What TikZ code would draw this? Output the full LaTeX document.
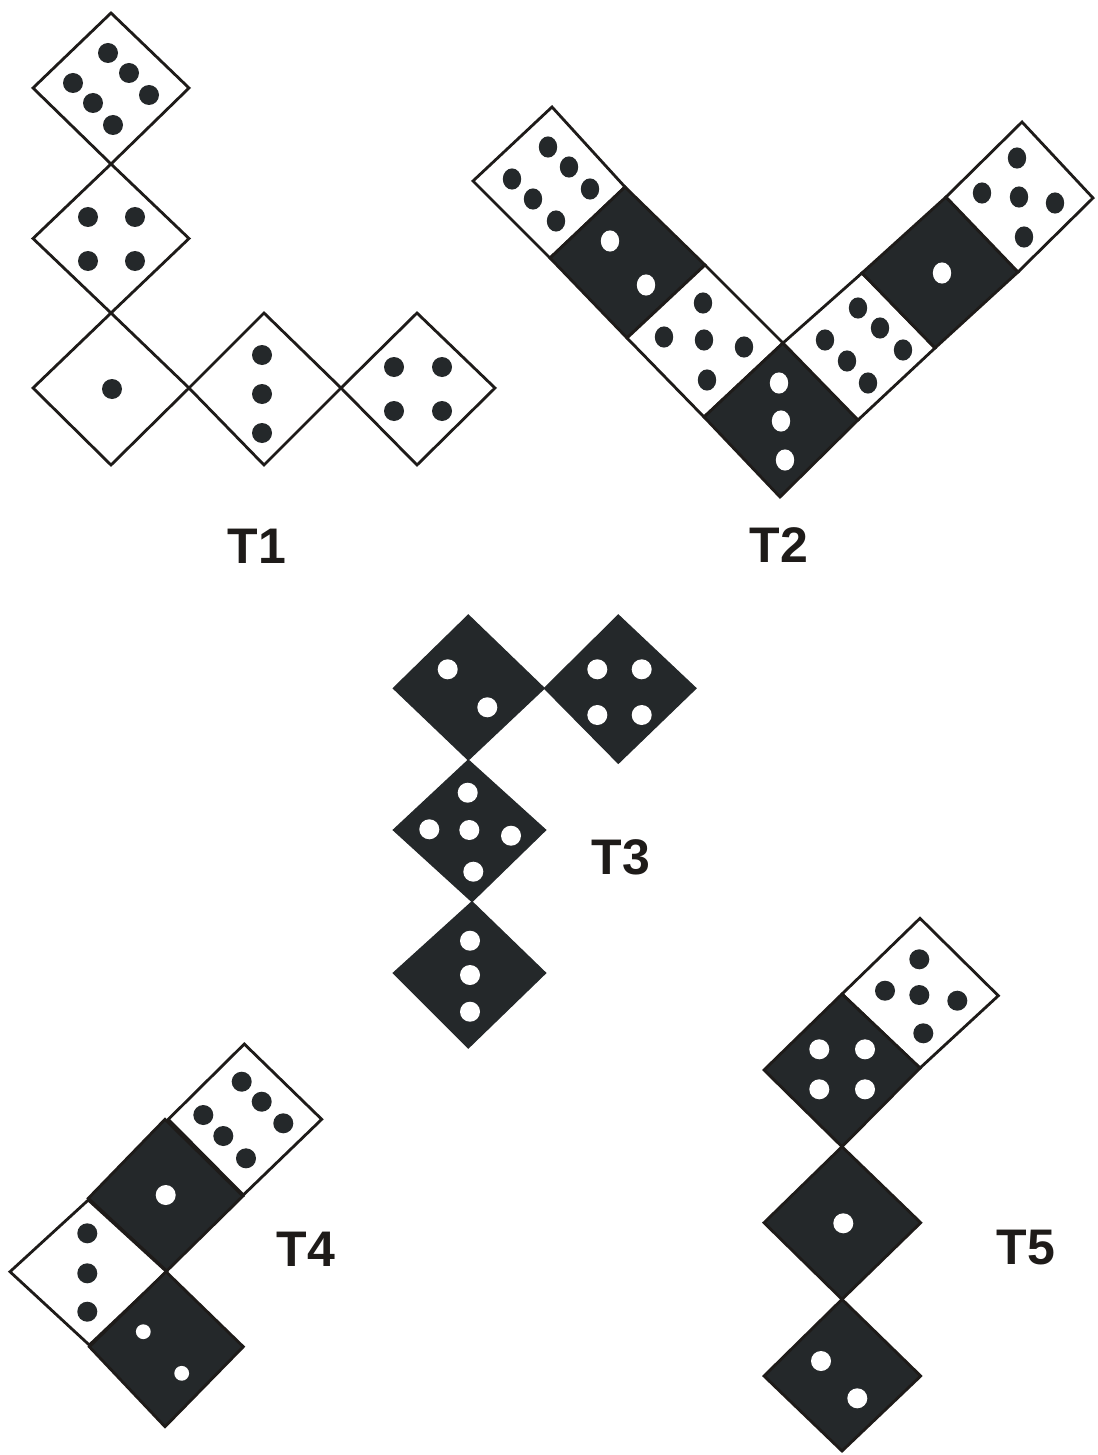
\documentclass[tikz,border=0pt]{standalone}
\usepackage{fontspec}
\setmainfont{Liberation Sans}
\definecolor{dk}{RGB}{36,40,42}
\definecolor{ln}{RGB}{30,27,25}
\newcommand\dpip[2][bp]{\fill[#1] #2 circle[radius=5pt];}
\newcommand\spip[2][wp]{\fill[#1] #2 circle[radius=3.7pt];}
\newcommand\epip[2][bp]{\fill[#1] #2 ellipse[x radius=4.6pt,y radius=5.3pt];}
\newcommand\quadd[5]{\filldraw[#1] #2 -- #3 -- #4 -- #5 -- cycle;}
\begin{document}
\begin{tikzpicture}[x=0.5pt,y=-0.5pt,
  wdie/.style={fill=white,draw=ln,line width=1.4pt,line join=miter},
  bdie/.style={fill=dk,draw=ln,line width=1.4pt,line join=miter},
  tdie/.style={fill=dk,draw=dk,line width=0.6pt},
  bp/.style={fill=dk},
  wp/.style={fill=white},
  lbl/.style={font=\fontsize{25}{30}\selectfont\bfseries,text=ln,inner sep=0pt}]
\useasboundingbox[fill=white] (0,0) rectangle (1097,1455);

% ---------------- T1 ----------------
\quadd{wdie}{(111,13)}{(189,88)}{(111,164)}{(33,88)}
\quadd{wdie}{(111,164)}{(189,238.5)}{(111,313)}{(33,238.5)}
\quadd{wdie}{(111,313)}{(189,388)}{(111,465)}{(33,388)}
\quadd{wdie}{(264,313)}{(341,388)}{(264,465)}{(189,388)}
\quadd{wdie}{(417,313)}{(495,388)}{(417,465)}{(341,388)}
\dpip{(108,53)}\dpip{(129,73)}\dpip{(149,95)}
\dpip{(73,83)}\dpip{(93,103)}\dpip{(113,125)}
\dpip{(88,217)}\dpip{(135,217)}\dpip{(88,261)}\dpip{(135,261)}
\dpip{(112,389)}
\dpip{(262,355)}\dpip{(262,394)}\dpip{(262,433)}
\dpip{(394,367)}\dpip{(442,367)}\dpip{(394,411)}\dpip{(442,411)}
\node[lbl] (t1) at (257,546) {T1};

% ---------------- T2 ----------------
\coordinate (P0) at (552,107);  \coordinate (P1) at (625,187);
\coordinate (P2) at (705,265);  \coordinate (P3) at (783,343);
\coordinate (Q0) at (473,181);  \coordinate (Q1) at (550,258);
\coordinate (Q2) at (627,338);  \coordinate (Q3) at (704,417);
\coordinate (Q4) at (780,497);
\coordinate (R0) at (1022,122); \coordinate (R1) at (946,197);
\coordinate (R2) at (862,273);
\coordinate (S0) at (1093,198); \coordinate (S1) at (1018,272);
\coordinate (S2) at (935,348);  \coordinate (S3) at (858,420);
\quadd{wdie}{(P0)}{(P1)}{(Q1)}{(Q0)}
\quadd{bdie}{(P1)}{(P2)}{(Q2)}{(Q1)}
\quadd{wdie}{(P2)}{(P3)}{(Q3)}{(Q2)}
\quadd{bdie}{(P3)}{(S3)}{(Q4)}{(Q3)}
\quadd{wdie}{(R2)}{(S2)}{(S3)}{(P3)}
\quadd{bdie}{(R1)}{(S1)}{(S2)}{(R2)}
\quadd{wdie}{(R0)}{(S0)}{(S1)}{(R1)}
\epip{(548,147)}\epip{(569,167)}\epip{(590,189)}
\epip{(512,179)}\epip{(533,199)}\epip{(556,221)}
\epip[wp]{(610,241)}\epip[wp]{(646,285)}
\epip{(703,303)}\epip{(664,337)}\epip{(704,340)}\epip{(744,347)}\epip{(707,380)}
\epip[wp]{(779,383)}\epip[wp]{(781,421)}\epip[wp]{(785,460)}
\epip{(858,308)}\epip{(880,328)}\epip{(903,350)}
\epip{(825,340)}\epip{(847,361)}\epip{(868,383)}
\epip[wp]{(942,273)}
\epip{(1017,158)}\epip{(982,193)}\epip{(1019,197)}\epip{(1055,203)}\epip{(1024,237)}
\node[lbl] (t2) at (779,545) {T2};

% ---------------- T3 ----------------
\quadd{tdie}{(468.3,615)}{(544.3,688.3)}{(468.3,760)}{(393.3,688.3)}
\quadd{tdie}{(618.3,615)}{(696,688.3)}{(618.3,763.3)}{(544.3,688.3)}
\quadd{tdie}{(468.3,760)}{(545.7,830)}{(472,901.7)}{(393.3,830)}
\quadd{tdie}{(472,901.7)}{(545.7,973)}{(468.3,1048)}{(393.3,973)}
\dpip[wp]{(447.7,669.3)}\dpip[wp]{(487.3,707.3)}
\dpip[wp]{(597.3,669.3)}\dpip[wp]{(641.7,669.3)}\dpip[wp]{(597.3,715)}\dpip[wp]{(641.7,715)}
\dpip[wp]{(467.7,792.7)}\dpip[wp]{(429.3,829.3)}\dpip[wp]{(469.3,830)}\dpip[wp]{(511,835.7)}\dpip[wp]{(473.3,871.7)}
\dpip[wp]{(470,940.7)}\dpip[wp]{(470,975)}\dpip[wp]{(470,1011.7)}
\node[lbl] (t3) at (621,857) {T3};

% ---------------- T4 ----------------
\quadd{wdie}{(244.3,1044)}{(321.7,1119.3)}{(243.3,1195)}{(168.3,1119.3)}
\quadd{wdie}{(88.3,1200)}{(166.7,1271.7)}{(89.3,1345)}{(10,1271.7)}
\quadd{bdie}{(165,1119.3)}{(243,1196)}{(166.7,1271)}{(88.3,1198.3)}
\quadd{bdie}{(166,1271.7)}{(243.3,1346.7)}{(165,1426.7)}{(89.3,1346.7)}
\dpip{(241.7,1081.7)}\dpip{(261.7,1101.7)}\dpip{(283.3,1123.3)}
\dpip{(203.3,1115)}\dpip{(223.3,1136)}\dpip{(246,1158.3)}
\dpip[wp]{(165.7,1195)}
\dpip{(87.3,1233.3)}\dpip{(87.3,1273.3)}\dpip{(87.3,1311.7)}
\spip{(143.3,1331.7)}\spip{(181.7,1373.3)}
\node[lbl] (t4) at (306,1249) {T4};

% ---------------- T5 ----------------
\quadd{wdie}{(920,918.3)}{(998.3,995.7)}{(920,1068)}{(842,994)}
\quadd{bdie}{(842,994)}{(920,1068)}{(842,1146.7)}{(764,1070)}
\quadd{bdie}{(842,1146.7)}{(920.7,1222.7)}{(842,1299.3)}{(764,1222.7)}
\quadd{bdie}{(842,1299.3)}{(920.7,1376)}{(842,1451)}{(764,1376)}
\dpip{(919.3,959.3)}\dpip{(885,990.7)}\dpip{(919.3,995)}\dpip{(957.3,1000.7)}\dpip{(923.3,1033.3)}
\dpip[wp]{(819.3,1049.3)}\dpip[wp]{(865,1049.3)}\dpip[wp]{(819.3,1089.3)}\dpip[wp]{(865,1089.3)}
\dpip[wp]{(843.3,1223.3)}
\dpip[wp]{(821,1361)}\dpip[wp]{(857.3,1398.3)}
\node[lbl] (t5) at (1026,1248) {T5};
\end{tikzpicture}
\end{document}
